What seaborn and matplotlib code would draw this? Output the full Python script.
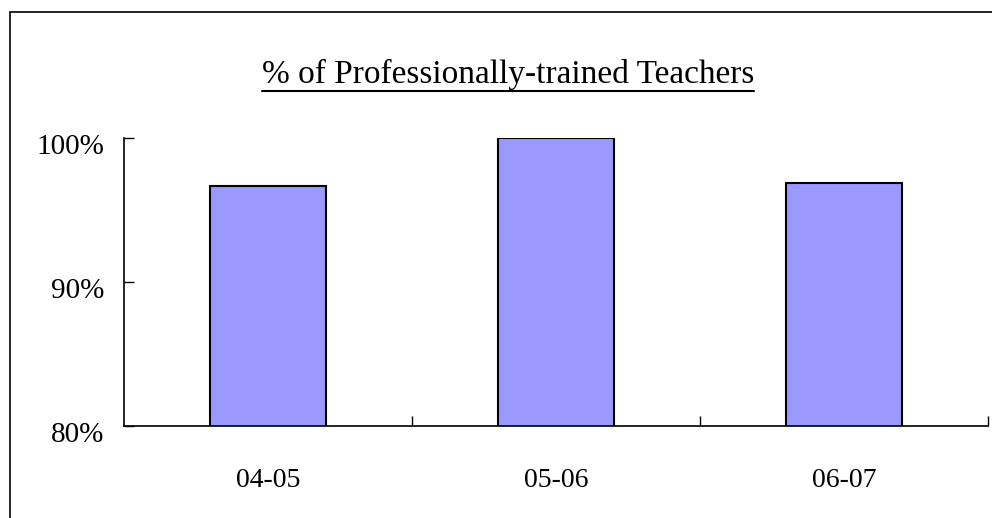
import matplotlib
matplotlib.use("Agg")
import matplotlib.pyplot as plt
import matplotlib.patches as patches
import matplotlib.transforms as mtransforms
from matplotlib.ticker import FuncFormatter, FixedLocator
import pandas as pd
import seaborn as sns

# datos del grafico
periodos = ["04-05", "05-06", "06-07"]
porcentajes = [96.7, 100.0, 96.9]
y_ticks = [80, 90, 100]
titulo = "% of Professionally-trained Teachers"

sns.set_style("white")
plt.rcParams['font.family'] = ['Liberation Serif', 'DejaVu Serif']
plt.rcParams['text.color'] = 'black'
plt.rcParams['xtick.color'] = 'black'
plt.rcParams['ytick.color'] = 'black'

data = pd.DataFrame({'Periodo': periodos, 'Porcentaje': porcentajes})

fig = plt.figure(figsize=(9.92, 5.18), dpi=100)
ax = fig.add_axes([124 / 992, 1 - 426 / 518, (988 - 124) / 992, 288 / 518])

sns.barplot(data=data, x='Periodo', y='Porcentaje', color='#9999FF',
            edgecolor='black', linewidth=1.5, width=0.4, saturation=1, ax=ax)

ax.set_xlim(-0.5, 2.5)
ax.set_ylim(80, 100)
ax.set_yticks(y_ticks)
ax.yaxis.set_major_formatter(FuncFormatter(lambda v, p: f"{v:.0f}%"))
ax.xaxis.set_major_locator(FixedLocator([0, 1, 2]))
ax.set_xticklabels(periodos)
ax.xaxis.set_minor_locator(FixedLocator([0.5, 1.5, 2.5]))
ax.tick_params(axis='x', which='major', length=0, labelsize=20, pad=30)
ax.tick_params(axis='x', which='minor', length=7, direction='in', width=1, color='black', bottom=True)
ax.tick_params(axis='y', length=7, direction='in', width=1, labelsize=21, pad=14, left=True)
ax.set_xlabel('')
ax.set_ylabel('')
for lado in ['top', 'right']:
    ax.spines[lado].set_visible(False)
for lado in ['left', 'bottom']:
    ax.spines[lado].set_color('black')
    ax.spines[lado].set_linewidth(1.2)

# las etiquetas del eje y un poco mas abajo
desplazar = mtransforms.ScaledTranslation(0, -6 / 100, fig.dpi_scale_trans)
for etiqueta in ax.get_yticklabels():
    etiqueta.set_transform(etiqueta.get_transform() + desplazar)

# titulo subrayado
t = fig.text(508 / 992, 1 - 74 / 518, titulo, ha='center', va='center', fontsize=24)
fig.canvas.draw()
bb = t.get_window_extent().transformed(fig.transFigure.inverted())
fig.add_artist(plt.Line2D([bb.x0, bb.x1], [bb.y0 - 0.003, bb.y0 - 0.003],
                          transform=fig.transFigure, color='black', linewidth=1.5))

# marco del grafico
fig.add_artist(patches.Rectangle((10 / 992, -0.1), 1.2, 1 - 12 / 518 + 0.1,
                                 transform=fig.transFigure, fill=False,
                                 edgecolor='black', linewidth=1.2))

fig.savefig('out.png', dpi=100)
